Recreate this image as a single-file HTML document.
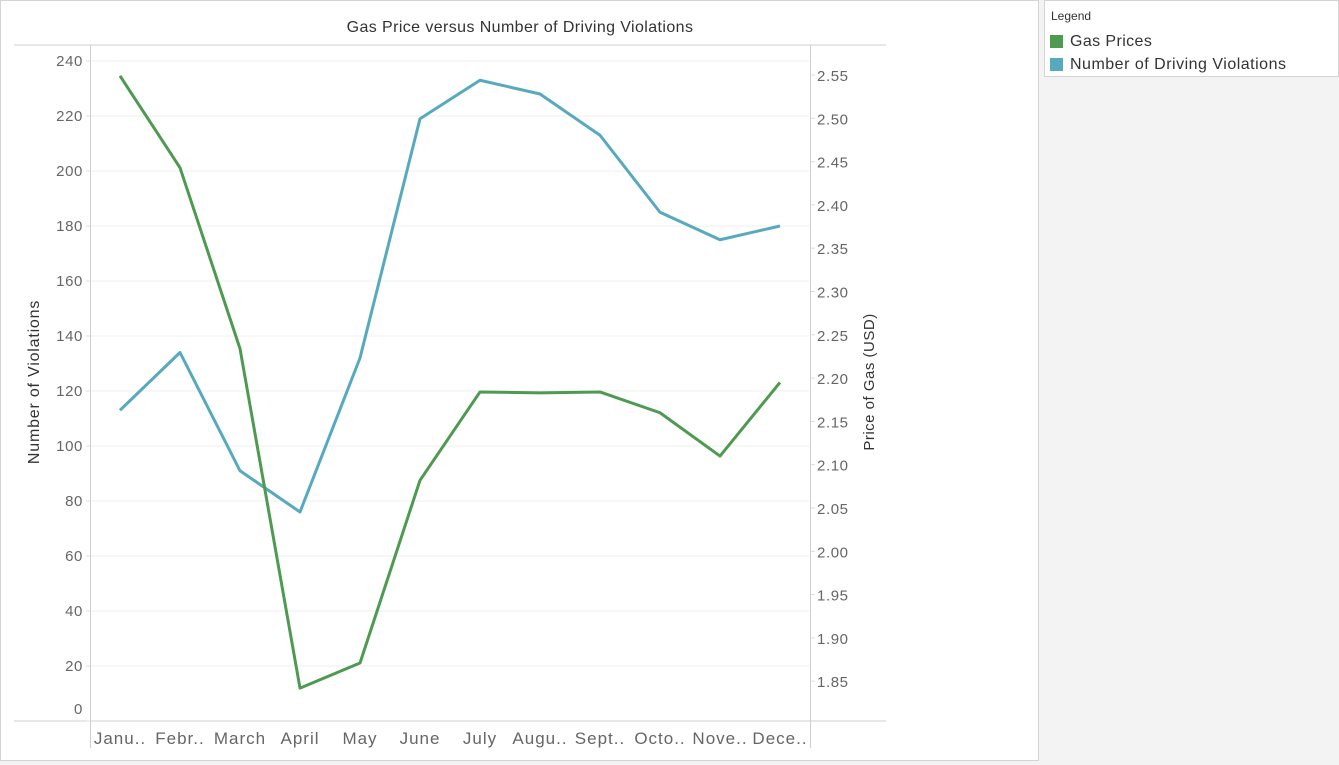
<!DOCTYPE html>
<html><head><meta charset="utf-8"><style>
body{margin:0;width:1339px;height:762px;background:#f3f3f3;font-family:"Liberation Sans",sans-serif;overflow:hidden}
#panel{position:absolute;left:0;top:0;width:1037px;height:759px;background:#fff;border:1px solid #d4d4d4}
#legend{position:absolute;left:1044px;top:0;width:293px;height:75px;background:#fff;border:1px solid #d4d4d4}
</style></head><body>
<div id="panel">
<svg id="chart" width="1037" height="759"></svg>
</div>
<div id="legend">
<div style="position:absolute;left:6px;top:8px;font-size:12px;color:#333">Legend</div>
<div style="position:absolute;left:5px;top:34px;width:13px;height:13px;background:#4e9a51"></div>
<div style="position:absolute;left:25px;top:32px;font-size:16px;letter-spacing:0.4px;color:#333">Gas Prices</div>
<div style="position:absolute;left:5px;top:57px;width:13px;height:13px;background:#57aabd"></div>
<div style="position:absolute;left:25px;top:55px;font-size:16px;letter-spacing:0.5px;color:#333">Number of Driving Violations</div>
</div>
<script>
const months=["Janu..","Febr..","March","April","May","June","July","Augu..","Sept..","Octo..","Nove..","Dece.."];
const violations=[113,134,91,76,132,219,233,228,213,185,175,180];
const gasPrices=[2.549,2.443,2.234,1.842,1.871,2.082,2.184,2.183,2.184,2.160,2.110,2.195];
const leftTicks=[0,20,40,60,80,100,120,140,160,180,200,220,240];
const rightTicks=[1.85,1.90,1.95,2.00,2.05,2.10,2.15,2.20,2.25,2.30,2.35,2.40,2.45,2.50,2.55];

const NS="http://www.w3.org/2000/svg";
const svgEl=document.getElementById('chart');
function mk(tag,attrs,parent){const e=document.createElementNS(NS,tag);for(const k in attrs)e.setAttribute(k,attrs[k]);(parent||svgEl).appendChild(e);return e;}
const xPos=i=>119+i*60;
const yL=v=>720-v*2.75;
const yR=v=>74+(2.55-v)/0.05*43.3;

leftTicks.forEach(t=>{if(t===0)return;const g=mk('line',{x1:90,x2:808,y1:yL(t),y2:yL(t),stroke:'#efefef'});

});
const topLine=mk('line',{x1:13,x2:885,y1:44,y2:44,stroke:'#cfcfcf'});


const botLine=mk('line',{x1:13,x2:885,y1:720,y2:720,stroke:'#cfcfcf'});


const leftLine=mk('line',{x1:89.5,x2:89.5,y1:44,y2:747,stroke:'#cfcfcf'});


const rightLine=mk('line',{x1:809.5,x2:809.5,y1:44,y2:747,stroke:'#cfcfcf'});



const ti=mk('text',{x:519,y:31,'text-anchor':'middle','font-size':16,'letter-spacing':0.4,fill:'#333'});ti.textContent='Gas Price versus Number of Driving Violations';



leftTicks.forEach(t=>{const yy=t===0?713:yL(t)+5;const e=mk('text',{x:82,y:yy,'text-anchor':'end','font-size':15,'letter-spacing':0.6,fill:'#666'});e.textContent=t;


mk('line',{x1:85,x2:89,y1:yL(t),y2:yL(t),stroke:'#ddd'});});
rightTicks.forEach(t=>{const e=mk('text',{x:816,y:yR(t)+6,'font-size':15,'letter-spacing':0.6,fill:'#666'});e.textContent=t.toFixed(2);


mk('line',{x1:810,x2:814,y1:yR(t),y2:yR(t),stroke:'#ddd'});});
months.forEach((m,i)=>{const e=mk('text',{x:xPos(i),y:743,'text-anchor':'middle','font-size':17,'letter-spacing':1,fill:'#666'});e.textContent=m;

});
const lt=mk('text',{x:0,y:0,transform:'translate(38,381) rotate(-90)','text-anchor':'middle','font-size':16,'letter-spacing':0.8,fill:'#333'});lt.textContent='Number of Violations';


const rt=mk('text',{x:0,y:0,transform:'translate(873,381) rotate(-90)','text-anchor':'middle','font-size':15,'letter-spacing':0.5,fill:'#333'});rt.textContent='Price of Gas (USD)';



const vp=mk('polyline',{points:violations.map((v,i)=>xPos(i)+','+yL(v)).join(' '),fill:'none',stroke:'#57aabd','stroke-width':3,'stroke-linejoin':'round'});


const gp=mk('polyline',{points:gasPrices.map((v,i)=>xPos(i)+','+yR(v)).join(' '),fill:'none',stroke:'#4e9a51','stroke-width':3,'stroke-linejoin':'round'});


</script>
</body></html>
